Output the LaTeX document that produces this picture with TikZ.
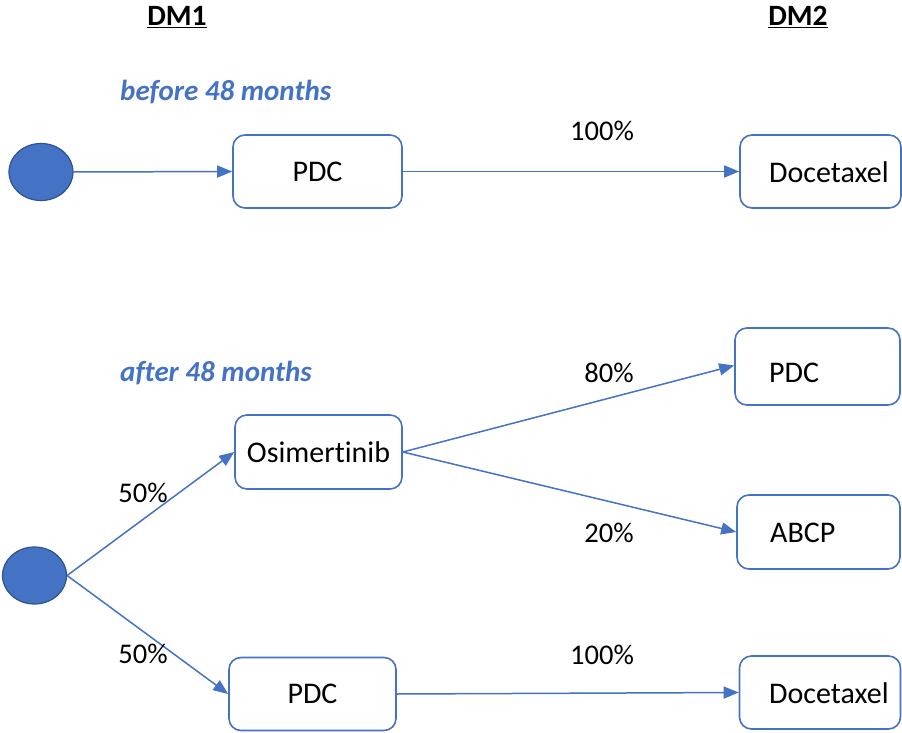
\documentclass[tikz,border=0pt]{standalone}
\usepackage{fontspec}
\setmainfont{Carlito}[RawFeature=-liga]
\usetikzlibrary{arrows.meta,shapes.geometric}
\definecolor{accent}{HTML}{4472C4}
\definecolor{darkaccent}{HTML}{2F528F}
\begin{document}
\begin{tikzpicture}[x=1pt,y=-1pt,
  every node/.style={font=\fontsize{30}{36}\selectfont, inner sep=0pt},
  box/.style={draw=accent, line width=1.6pt, rounded corners=12pt, rectangle},
  chance/.style={ellipse, draw=darkaccent, line width=1.2pt, fill=accent,
    minimum width=64pt, minimum height=57pt},
  link/.style={draw=accent, line width=1.5pt,
    -{Triangle[length=15pt,width=12pt]}},
  heading/.style={font=\fontsize{29.5}{34}\selectfont\bfseries},
  phase/.style={font=\fontsize{29}{34}\selectfont\bfseries\itshape, text=accent, anchor=west},
  pct/.style={font=\fontsize{28.5}{34}\selectfont}]
\useasboundingbox (0,0) rectangle (902,733);

% column headings
\node[heading] (dm1) at (177,17) {\underline{DM1}};
\node[heading] (dm2) at (798,17) {\underline{DM2}};

% before 48 months
\node[phase] (before) at (120,92) {before 48 months};
\node[chance] (c1) at (41,172) {};
\node[box, minimum width=169pt, minimum height=73pt] (b1) at (317.5,171.5) {PDC};
\node[box, minimum width=161pt, minimum height=73pt] (d1) at (820.5,171.5) {};
\node[anchor=west] (d1t) at (769,172) {Docetaxel};
\draw[link] (c1.east) -- (b1.west);
\draw[link] (b1.east) -- (d1.west);
\node[pct] (p100a) at (602,131) {100\%};

% after 48 months
\node[phase] (after) at (120,373) {after 48 months};
\node[chance] (c2) at (34.5,575.5) {};
\node[box, minimum width=167pt, minimum height=74pt] (o) at (318.5,452) {Osimertinib};
\node[box, minimum width=167pt, minimum height=73pt] (b2) at (312.5,694) {PDC};
\node[box, minimum width=165pt, minimum height=77pt] (p3) at (817.5,366.5) {};
\node[anchor=west] (p3t) at (769,373) {PDC};
\node[box, minimum width=163pt, minimum height=74pt] (a3) at (818.5,532) {};
\node[anchor=west] (a3t) at (770,533) {ABCP};
\node[box, minimum width=161pt, minimum height=73pt] (d2) at (820,692.5) {};
\node[anchor=west] (d2t) at (769,693) {Docetaxel};

\draw[link] (c2.east) -- (o.west);
\draw[link] (c2.east) -- (b2.west);
\draw[link] (o.east) -- ([yshift=1pt]p3.west);
\draw[link] (o.east) -- (a3.west);
\draw[link] (b2.east) -- (d2.west);

\node[pct] (p50a) at (143,493) {50\%};
\node[pct] (p50b) at (143,654) {50\%};
\node[pct] (p80) at (609,373) {80\%};
\node[pct] (p20) at (609,533) {20\%};
\node[pct] (p100b) at (602,655) {100\%};
\end{tikzpicture}
\end{document}
